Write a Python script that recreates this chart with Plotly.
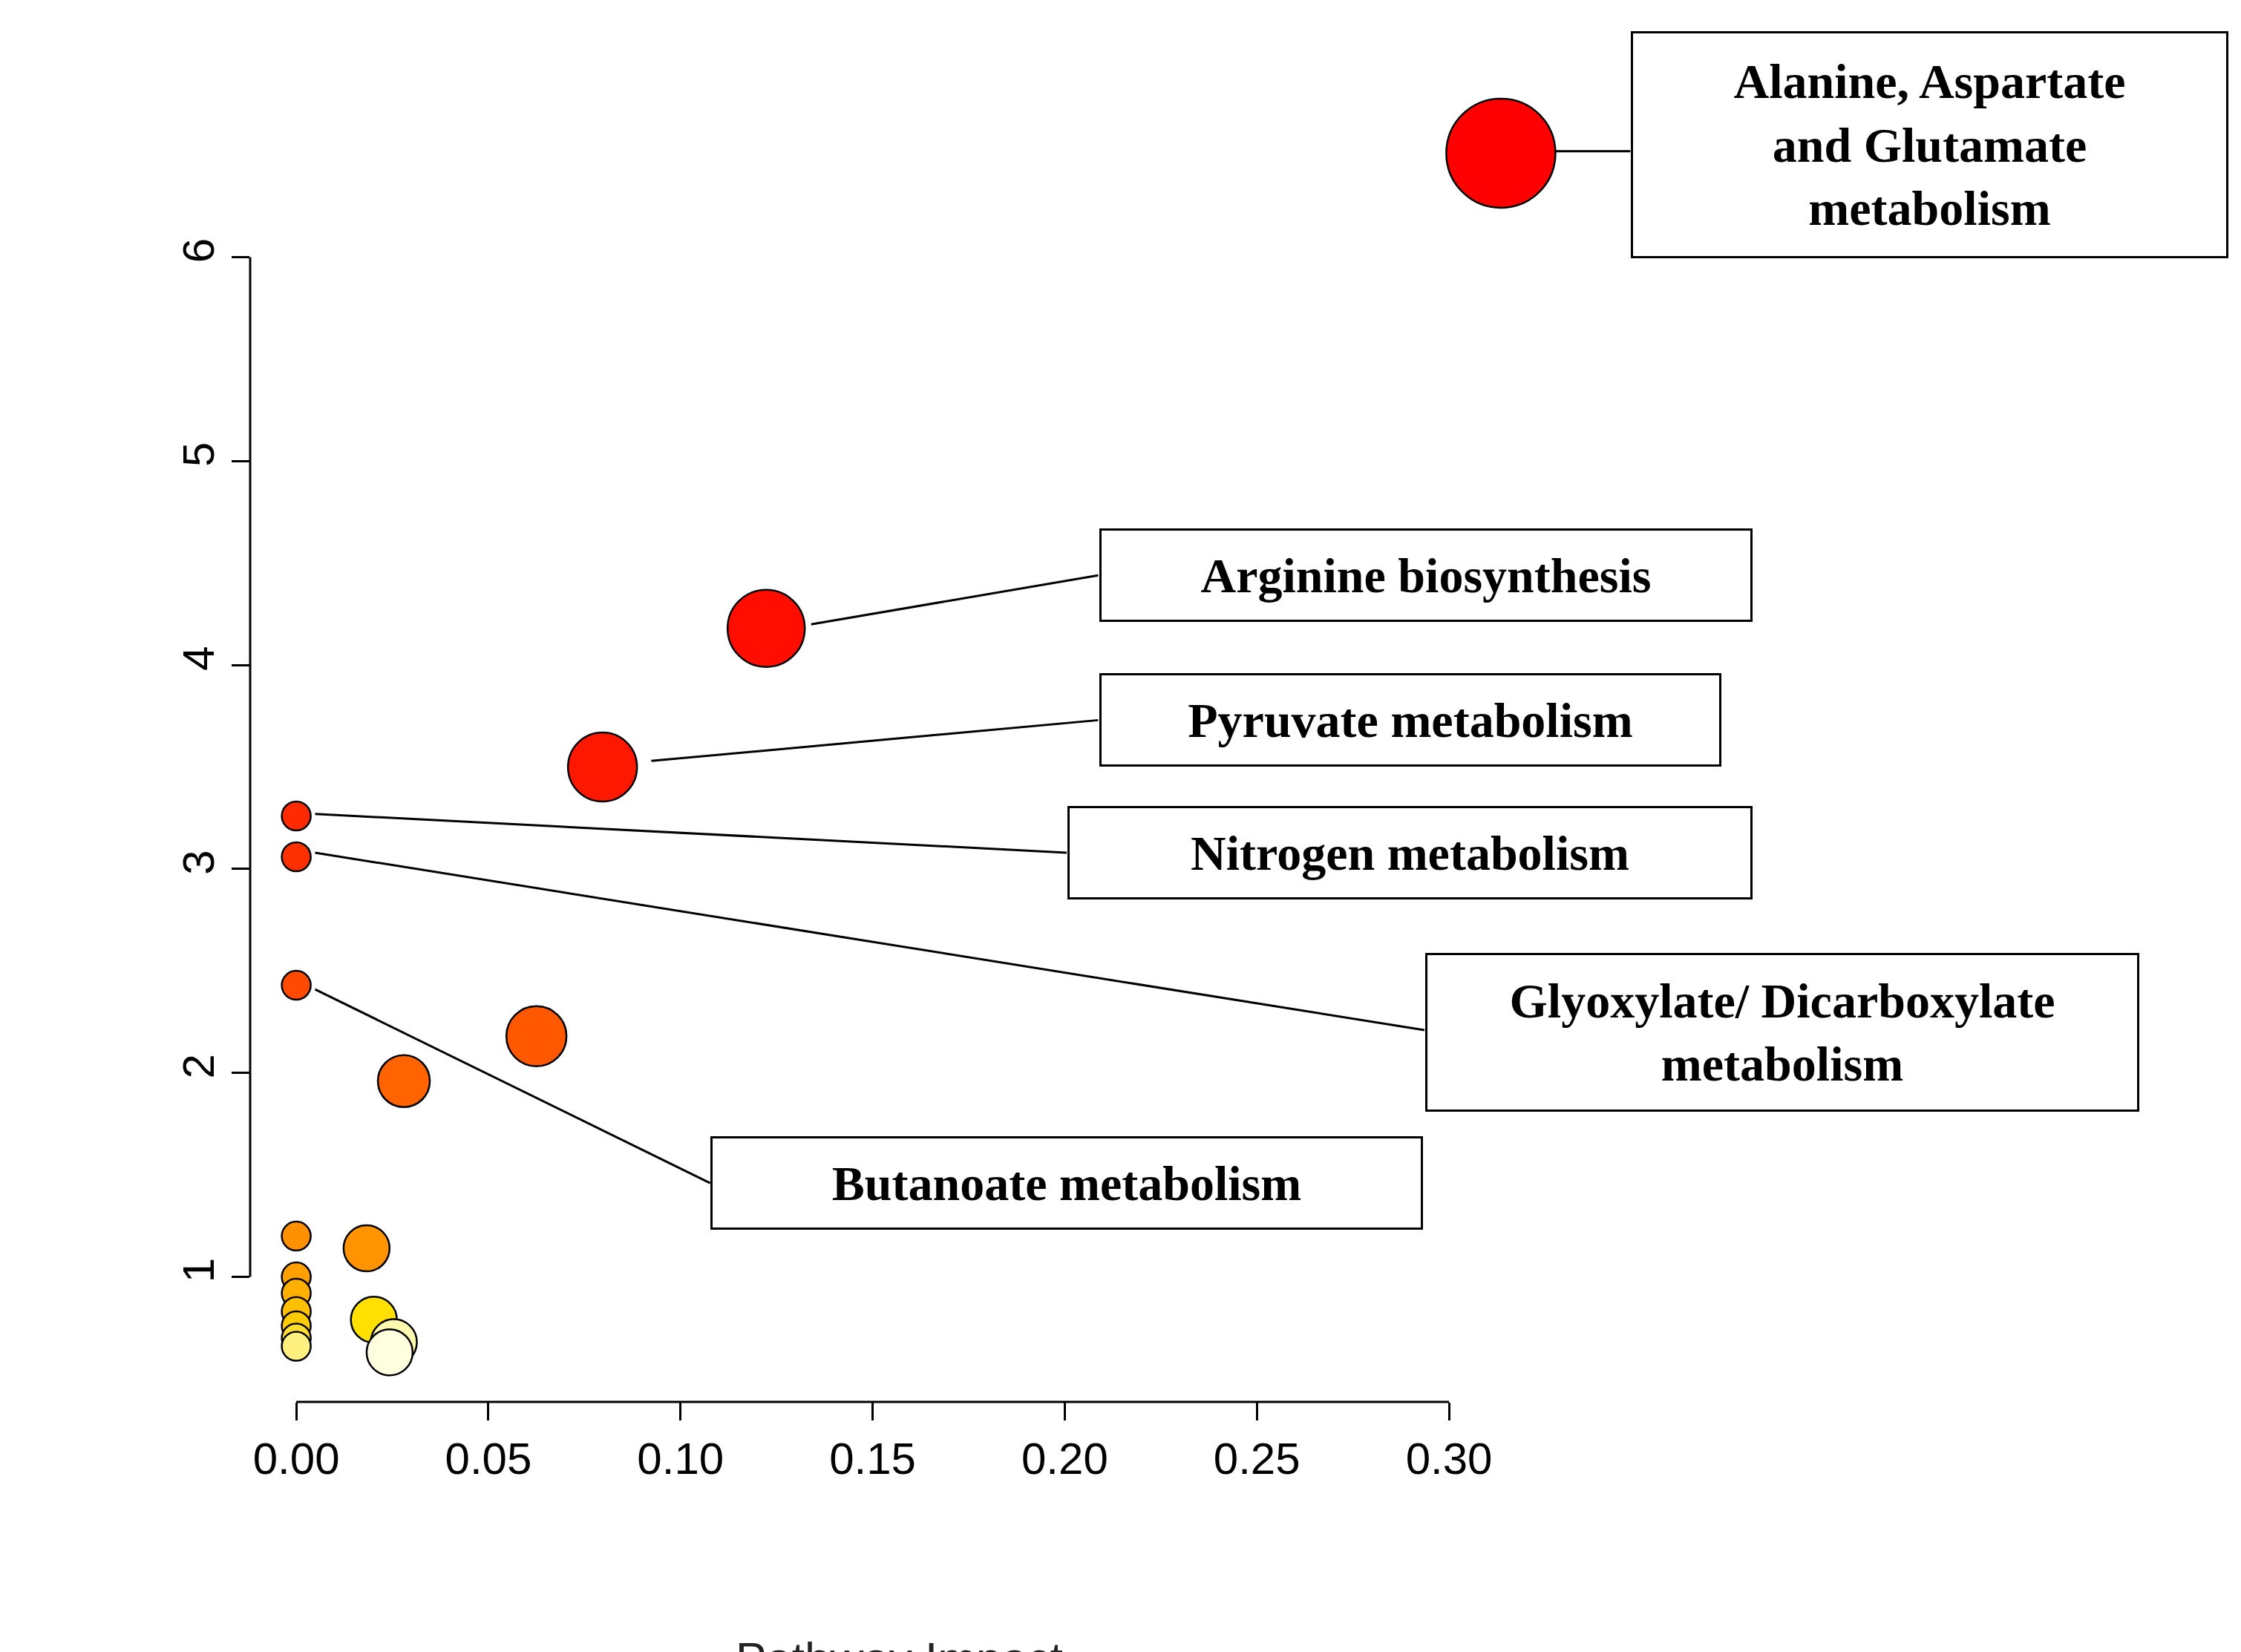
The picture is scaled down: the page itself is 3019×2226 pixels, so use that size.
import plotly.graph_objects as go

# pathway data
impact = [0.3135, 0.1223, 0.0797, 0.0, 0.0, 0.0, 0.0625, 0.028, 0.0, 0.0183,
          0.0, 0.0, 0.0, 0.0, 0.0, 0.0, 0.0202, 0.0254, 0.0243]
logp = [6.51, 4.18, 3.50, 3.26, 3.06, 2.43, 2.18, 1.96, 1.20, 1.14,
        1.00, 0.92, 0.83, 0.76, 0.70, 0.66, 0.79, 0.68, 0.63]
size = [147, 104, 93, 39, 39, 39, 81, 70, 39, 62,
        39, 39, 39, 39, 39, 39, 62, 62, 62]
colors = ["#FF0000", "#FF0E00", "#FF1800", "#FF2A00", "#FF3000", "#FF4A00",
          "#FF5800", "#FF6400", "#FF9000", "#FF9400", "#FFA000", "#FFB000",
          "#FFC000", "#FFCC00", "#FFDC30", "#FFF080", "#FFE000", "#FFF8B0", "#FFFFE0"]

# labels: text, box centre (x, y), point the leader starts from, box left edge
labels = ["Alanine, Aspartate<br>and Glutamate<br>metabolism", "Arginine biosynthesis",
          "Pyruvate metabolism", "Nitrogen metabolism",
          "Glyoxylate/ Dicarboxylate<br>metabolism", "Butanoate metabolism"]
box_w = [807, 882, 840, 925, 964, 962]
box_h = [308, 128, 128, 128, 216, 128]
box_cx = [0.4250, 0.2940, 0.2899, 0.2899, 0.3868, 0.2005]
box_cy = [6.55, 4.44, 3.73, 3.08, 2.20, 1.46]
lead_x0 = [0.3270, 0.1340, 0.0924, 0.0049, 0.0049, 0.0049]
lead_y0 = [6.52, 4.20, 3.53, 3.27, 3.08, 2.41]
lead_x1 = [0.3472, 0.2087, 0.2087, 0.2005, 0.2936, 0.1077]
lead_y1 = [6.52, 4.44, 3.73, 3.08, 2.21, 1.46]

fig = go.Figure(go.Scatter(
    x=impact, y=logp, mode="markers",
    marker=dict(size=size, sizemode="diameter", color=colors, opacity=1,
                line=dict(color="black", width=2.5)),
))

shapes = [
    dict(type="line", xref="x", yref="paper", x0=0, x1=0.3, y0=0, y1=0,
         line=dict(color="black", width=3)),
    dict(type="line", xref="paper", yref="y", x0=0, x1=0, y0=1, y1=6,
         line=dict(color="black", width=3)),
]
for i in range(len(labels)):
    shapes.append(dict(type="line", xref="x", yref="y", x0=lead_x0[i], y0=lead_y0[i],
                       x1=lead_x1[i], y1=lead_y1[i], line=dict(color="black", width=3),
                       layer="below"))

annotations = []
for i, t in enumerate(labels):
    annotations.append(dict(
        x=box_cx[i], y=box_cy[i], xref="x", yref="y", text="<b>" + t + "</b>",
        showarrow=False, width=box_w[i] - 10, height=box_h[i] - 10,
        bordercolor="black", borderwidth=3, bgcolor="white",
        font=dict(family="Liberation Serif", size=66, color="black"),
    ))

# axis titles
annotations.append(dict(x=0.157, y=-0.205, xref="x", yref="paper", text="Pathway Impact",
                        showarrow=False, font=dict(size=62, color="#222")))
annotations.append(dict(x=-0.265, y=3.0, xref="paper", yref="y", text="-log10(p)",
                        textangle=-90, showarrow=False, font=dict(size=62, color="#8B1A1A")))

fig.update_layout(
    width=3019, height=2226, plot_bgcolor="white", paper_bgcolor="white",
    margin=dict(l=329, r=19, t=19, b=345), showlegend=False,
    shapes=shapes, annotations=annotations,
    font=dict(family="Liberation Sans", size=60, color="black"),
    xaxis=dict(range=[-0.012, 0.504], showgrid=False, zeroline=False, showline=False,
               tickvals=[0, 0.05, 0.1, 0.15, 0.2, 0.25, 0.3],
               ticktext=["0.00", "0.05", "0.10", "0.15", "0.20", "0.25", "0.30"],
               ticks="outside", ticklen=24, tickwidth=3, tickcolor="black"),
    yaxis=dict(range=[0.387, 7.163], showgrid=False, zeroline=False, showline=False,
               tickvals=[1, 2, 3, 4, 5, 6], tickangle=-90,
               ticks="outside", ticklen=24, tickwidth=3, tickcolor="black"),
)

fig.write_html("out.html")
